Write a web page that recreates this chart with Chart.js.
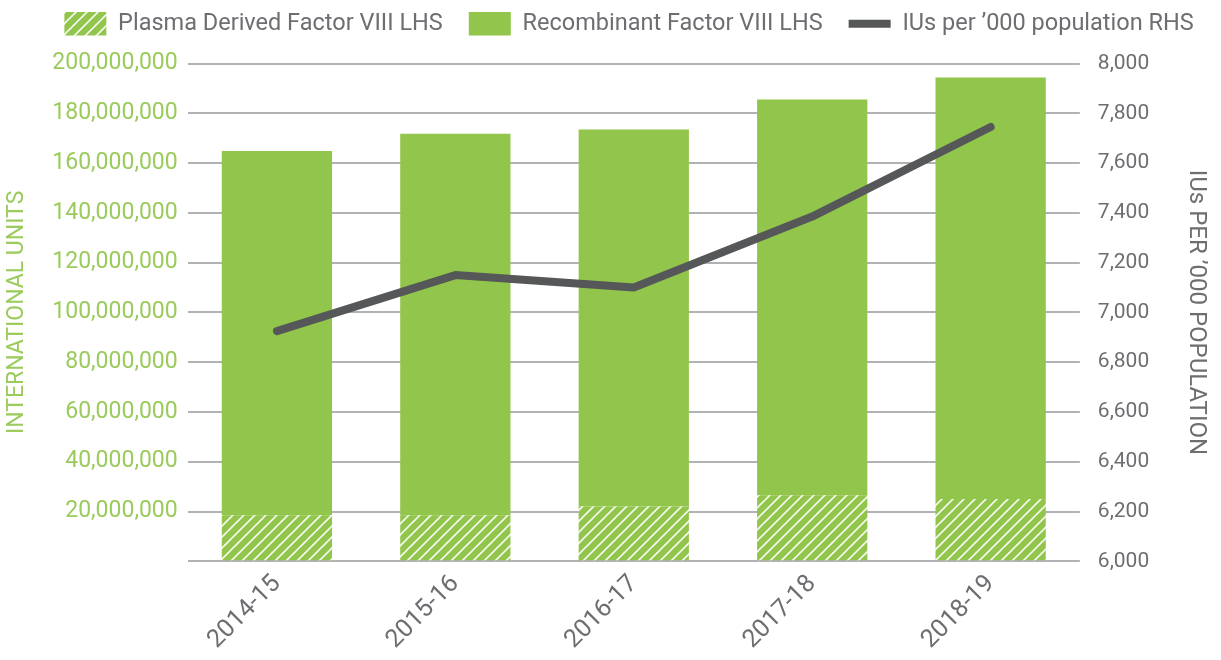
<!DOCTYPE html>
<html lang="en">
<head>
<meta charset="UTF-8" />
<title>Factor VIII issued</title>
<script src="https://cdn.jsdelivr.net/npm/chart.js@4.4.0/dist/chart.umd.min.js"></script>
<style>
*{box-sizing:border-box}
html,body{margin:0;background:#fff}
#wrap{width:1221px;height:660px;position:relative}
</style>
</head>
<body>
<div id="wrap"><canvas id="c" width="1221" height="660"></canvas></div>
<script>
/* ---------- data ---------- */
const YEARS = ['2014-15','2015-16','2016-17','2017-18','2018-19'];
const PLASMA = [18500000,18500000,22000000,26500000,25000000];
const RECOMB = [146300000,153300000,151500000,159000000,169400000];
const PER_000 = [6925,7150,7100,7385,7745];

const GREEN='#92c54b', GREEN_TXT='#9acb5c', GREY='#6d6e71', LINE='#555759';
const FONT='Roboto';
const LEGEND_EXTRA=18;   // extra space under the legend
const LEGEND_SHIFT=24;   // legend sits a bit right of centre

/* hatched fill for plasma derived */
function hatch(){
  const s=11, cv=document.createElement('canvas');cv.width=s;cv.height=s;
  const g=cv.getContext('2d');
  g.fillStyle=GREEN;g.fillRect(0,0,s,s);
  g.strokeStyle='rgba(255,255,255,.9)';g.lineWidth=1.6;
  g.beginPath();
  g.moveTo(0,s);g.lineTo(s,0);
  g.moveTo(-2,2);g.lineTo(2,-2);
  g.moveTo(s-2,s+2);g.lineTo(s+2,s-2);
  g.stroke();
  return g.createPattern(cv,'repeat');
}

/* legend tweaks: more room below it, nudged right */
const legendTweak={id:'legendTweak',
  beforeLayout(chart){
    const lg=chart.legend;
    if(lg && !lg._gapped){const f=lg.fit;lg.fit=function(){f.call(this);this.height+=LEGEND_EXTRA;};lg._gapped=true;}
  },
  afterLayout(chart){
    const lg=chart.legend; if(lg){lg.left+=LEGEND_SHIFT;lg.right+=LEGEND_SHIFT;}
  }
};

Chart.defaults.font.family=FONT;
Chart.defaults.color=GREY;

new Chart(document.getElementById('c'),{
  data:{
    labels:YEARS,
    datasets:[
      {type:'bar',label:'Plasma Derived Factor VIII LHS',data:PLASMA,backgroundColor:hatch(),
       yAxisID:'y',order:1,pointStyle:'rect',categoryPercentage:1,barPercentage:.618},
      {type:'bar',label:'Recombinant Factor VIII LHS',data:RECOMB,backgroundColor:GREEN,
       yAxisID:'y',order:1,pointStyle:'rect',categoryPercentage:1,barPercentage:.618},
      {type:'line',label:'IUs per \u2019000 population RHS',data:PER_000,yAxisID:'y1',order:0,
       borderColor:LINE,backgroundColor:LINE,borderWidth:8,pointRadius:0,pointStyle:'line',
       borderCapStyle:'round',borderJoinStyle:'round',tension:0}
    ]
  },
  plugins:[legendTweak],
  options:{
    responsive:false,animation:false,
    layout:{padding:{left:0,right:11,top:-14,bottom:5}},
    plugins:{
      tooltip:{enabled:false},
      legend:{
        position:'top',align:'center',
        labels:{usePointStyle:true,pointStyleWidth:42,boxWidth:42,boxHeight:24,padding:26,
          color:GREY,font:{size:23.5},
          sort:(a,b)=>a.datasetIndex-b.datasetIndex}
      }
    },
    scales:{
      x:{stacked:true,grid:{display:false},border:{display:false},
         ticks:{color:GREY,font:{size:25},minRotation:45,maxRotation:45,padding:0}},
      y:{stacked:true,position:'left',min:0,max:200000000,
         grid:{color:'#b1b2b4',lineWidth:2,drawTicks:false},border:{display:false},
         ticks:{stepSize:20000000,color:GREEN_TXT,font:{size:23},padding:10,
           callback:v=>v===0?'':v.toLocaleString('en-US')},
         title:{display:true,text:'INTERNATIONAL UNITS',color:GREEN_TXT,font:{size:23},padding:{top:3.7,bottom:11}}},
      y1:{position:'right',min:6000,max:8000,
         grid:{display:false,drawTicks:false},border:{display:false},
         ticks:{stepSize:200,color:GREY,font:{size:21},padding:18,
           callback:v=>v.toLocaleString('en-US')},
         title:{display:true,text:'IUs PER \u2019000 POPULATION',color:GREY,font:{size:24},padding:{top:0,bottom:14}}}
    }
  }
});
</script>
</body>
</html>
